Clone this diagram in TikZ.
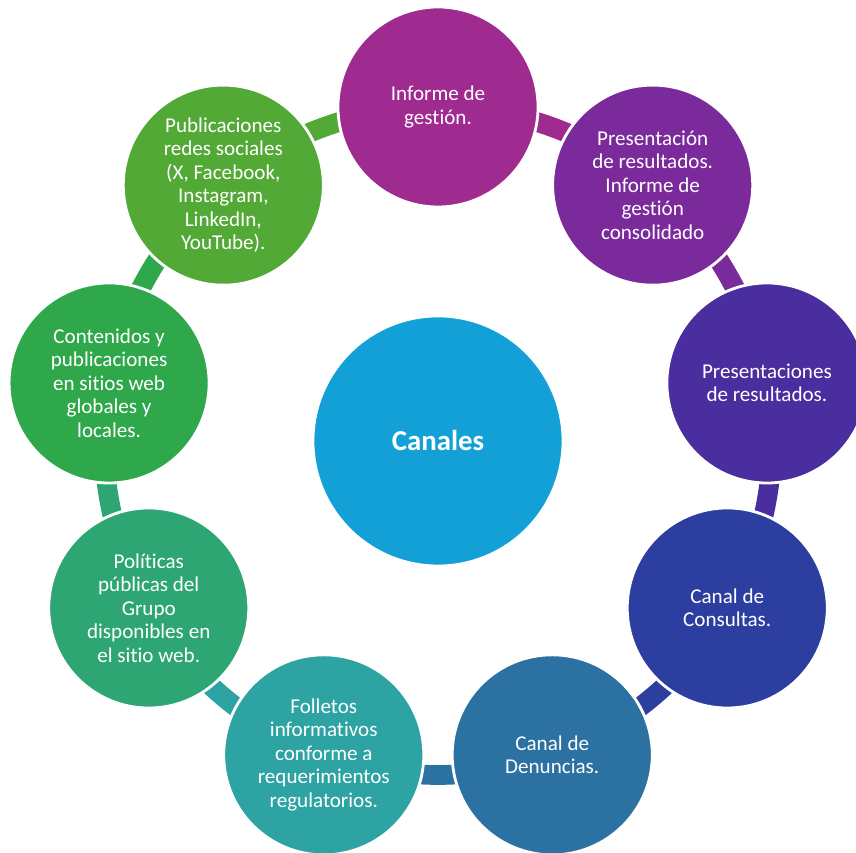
\documentclass[tikz,border=0pt]{standalone}
\usepackage{fontspec}
\setmainfont[Ligatures=NoCommon]{Carlito}
\usetikzlibrary{backgrounds}

\definecolor{col0}{HTML}{A02B90}
\definecolor{col1}{HTML}{7B2A9C}
\definecolor{col2}{HTML}{4A2D9E}
\definecolor{col3}{HTML}{2C3FA0}
\definecolor{col4}{HTML}{2B71A1}
\definecolor{col5}{HTML}{2DA3A3}
\definecolor{col6}{HTML}{2EA673}
\definecolor{col7}{HTML}{2EA84A}
\definecolor{col8}{HTML}{52A935}
\definecolor{hub}{HTML}{13A0D7}

\begin{document}
\begin{tikzpicture}[x=0.025cm, y=0.025cm,
    item/.style={circle, draw=white, line width=2pt, minimum size=5cm, inner sep=0pt,
        text=white, align=center, font=\fontsize{15}{16.7}\selectfont},
    link/.style={line width=14pt}]
    \useasboundingbox (0,0) rectangle (856,853);
    \node[item, fill=hub, minimum size=6.25cm, font=\fontsize{20.5}{24}\selectfont\bfseries] (c) at (438,412) {Canales};
    \foreach \i/\txt in {0/{Informe de\\gestión.},
        1/{Presentación\\de resultados.\\Informe de\\gestión\\consolidado},
        2/{Presentaciones\\de resultados.},
        3/{Canal de\\Consultas.},
        4/{Canal de\\Denuncias.},
        5/{Folletos\\informativos\\conforme a\\requerimientos\\regulatorios.},
        6/{Políticas\\públicas del\\Grupo\\disponibles en\\el sitio web.},
        7/{Contenidos y\\publicaciones\\en sitios web\\globales y\\locales.},
        8/{Publicaciones\\redes sociales\\(X, Facebook,\\Instagram,\\LinkedIn,\\YouTube).}}
    \node[item, fill=col\i] (n\i) at ([shift={({90-40*\i}:334)}]c.center) {\txt};
    \begin{scope}[on background layer]
        \foreach \i in {0,...,8}
        \draw[link, draw=col\i] (n\i.center) arc[start angle={90-40*\i}, end angle={50-40*\i}, radius=334];
    \end{scope}
\end{tikzpicture}
\end{document}
